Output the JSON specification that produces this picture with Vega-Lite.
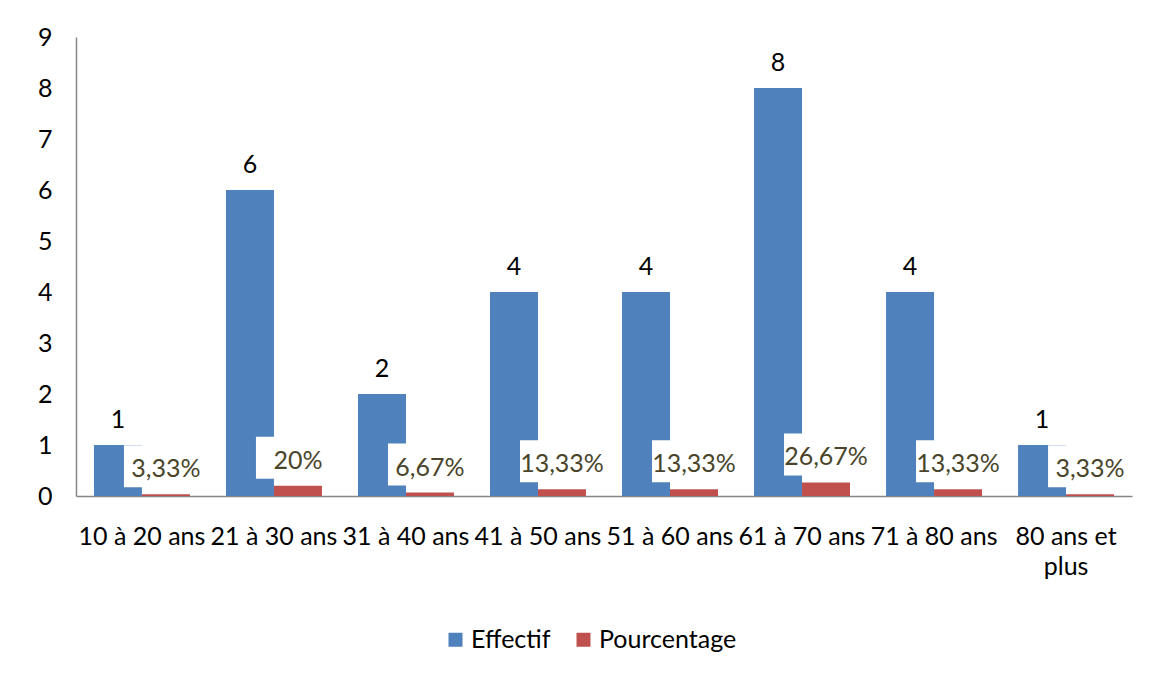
{
  "$schema": "https://vega.github.io/schema/vega-lite/v6.json",
  "width": 1056,
  "height": 459,
  "autosize": {"type": "none"},
  "padding": {"left": 76, "top": 37, "right": 21, "bottom": 178},
  "background": "white",
  "config": {
    "locale": {"number": {"decimal": ",", "thousands": " ", "grouping": [3], "currency": ["", " €"]}},
    "view": {"stroke": null},
    "font": "Lato",
    "axis": {"labelFont": "Lato", "labelFontSize": 25, "labelColor": "#000000", "domainColor": "#868686", "domainWidth": 1.5, "ticks": false, "grid": false, "title": null},
    "legend": {"labelFont": "Lato", "labelFontSize": 25, "labelColor": "#000000"}
  },
  "data": {
    "values": [
      {"age": "10 à 20 ans", "serie": "Effectif", "value": 1},
      {"age": "10 à 20 ans", "serie": "Pourcentage", "value": 0.0333},
      {"age": "21 à 30 ans", "serie": "Effectif", "value": 6},
      {"age": "21 à 30 ans", "serie": "Pourcentage", "value": 0.2},
      {"age": "31 à 40 ans", "serie": "Effectif", "value": 2},
      {"age": "31 à 40 ans", "serie": "Pourcentage", "value": 0.0667},
      {"age": "41 à 50 ans", "serie": "Effectif", "value": 4},
      {"age": "41 à 50 ans", "serie": "Pourcentage", "value": 0.1333},
      {"age": "51 à 60 ans", "serie": "Effectif", "value": 4},
      {"age": "51 à 60 ans", "serie": "Pourcentage", "value": 0.1333},
      {"age": "61 à 70 ans", "serie": "Effectif", "value": 8},
      {"age": "61 à 70 ans", "serie": "Pourcentage", "value": 0.2667},
      {"age": "71 à 80 ans", "serie": "Effectif", "value": 4},
      {"age": "71 à 80 ans", "serie": "Pourcentage", "value": 0.1333},
      {"age": "80 ans et plus", "serie": "Effectif", "value": 1},
      {"age": "80 ans et plus", "serie": "Pourcentage", "value": 0.0333}
    ]
  },
  "encoding": {
    "x": {
      "field": "age", "type": "nominal", "sort": null,
      "scale": {"paddingInner": 0.273, "paddingOuter": 0.136},
      "axis": {"labelAngle": 0, "labelPadding": 28, "labelLineHeight": 30,
               "labelExpr": "datum.value == '80 ans et plus' ? ['80 ans et', 'plus'] : datum.value"}
    },
    "xOffset": {"field": "serie", "type": "nominal", "scale": {"paddingInner": 0, "paddingOuter": 0}},
    "y": {
      "field": "value", "type": "quantitative",
      "scale": {"domain": [0, 9], "nice": false},
      "axis": {"values": [0, 1, 2, 3, 4, 5, 6, 7, 8, 9], "labelPadding": 24}
    }
  },
  "layer": [
    {
      "mark": {"type": "bar"},
      "encoding": {
        "color": {
          "field": "serie", "type": "nominal",
          "scale": {"domain": ["Effectif", "Pourcentage"], "range": ["#4F81BD", "#C0504D"]},
          "legend": {"title": null, "orient": "none", "direction": "horizontal", "legendX": 367, "legendY": 590,
                     "symbolType": "square", "symbolSize": 196, "symbolStrokeWidth": 0, "labelOffset": 3, "columnPadding": 20}
        }
      }
    },
    {
      "transform": [{"filter": "datum.serie == 'Pourcentage'"}],
      "mark": {"type": "bar", "color": "white", "width": 84, "yOffset": -49, "y2Offset": -7},
      "encoding": {"y2": {"field": "value"}}
    },
    {
      "transform": [{"filter": "datum.serie == 'Effectif'"}],
      "mark": {"type": "text", "baseline": "alphabetic", "dy": -17, "fontSize": 25, "color": "#000000"},
      "encoding": {"text": {"field": "value", "type": "quantitative"}}
    },
    {
      "transform": [{"filter": "datum.serie == 'Pourcentage'"}],
      "mark": {"type": "text", "baseline": "alphabetic", "dy": -17, "fontSize": 25, "color": "#4A452A"},
      "encoding": {"text": {"field": "value", "type": "quantitative", "format": ".2~%"}}
    }
  ]
}
